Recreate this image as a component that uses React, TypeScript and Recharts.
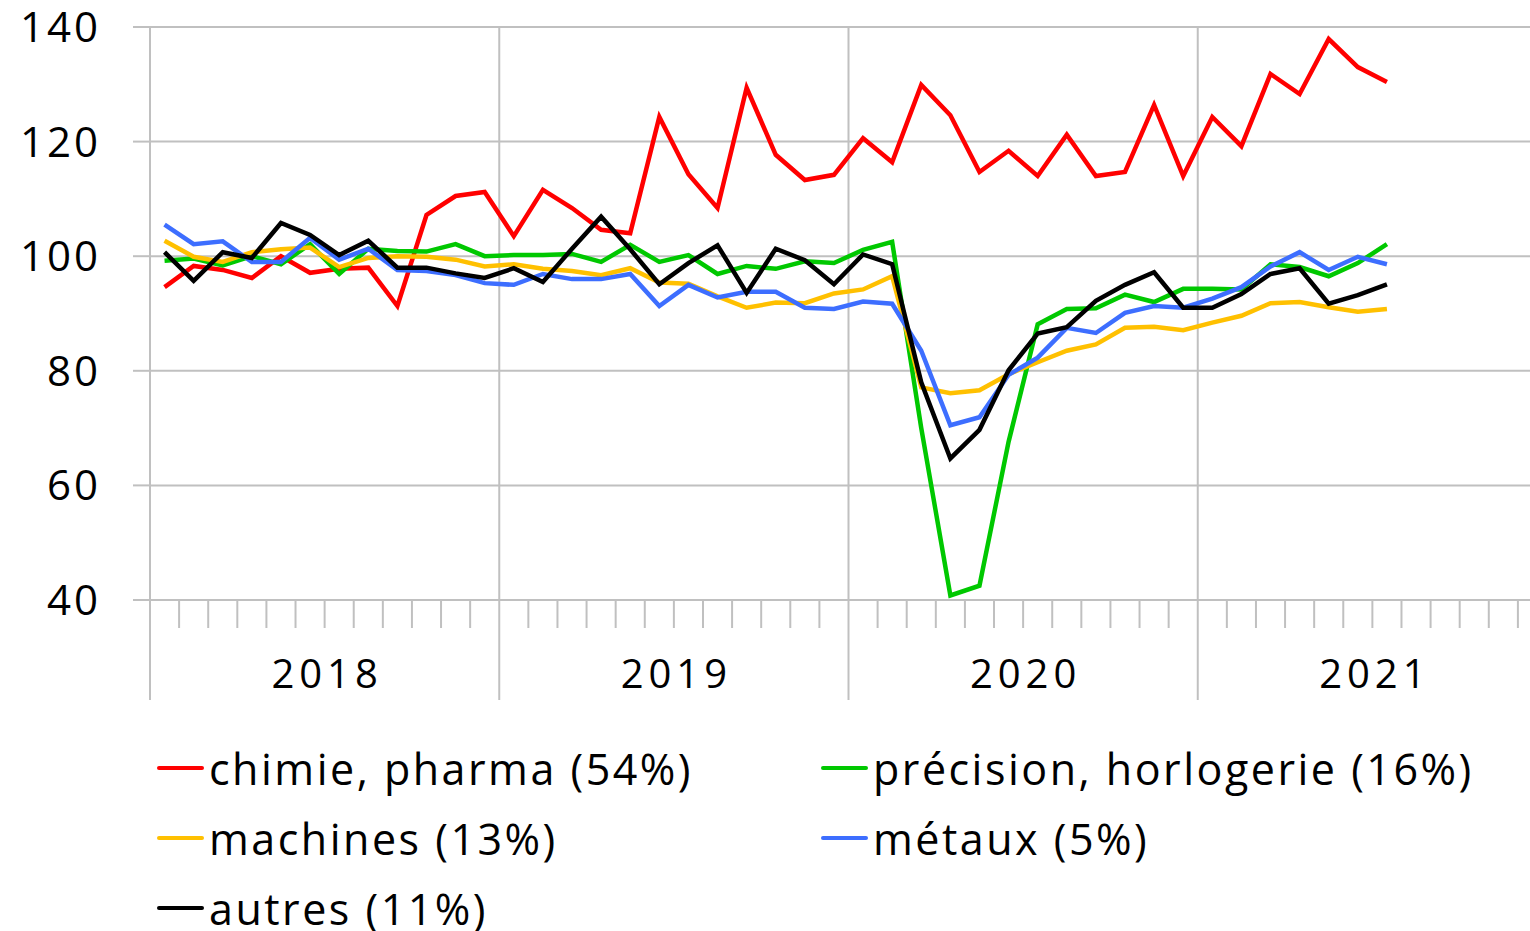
import React from 'react'
import { LineChart, Line, XAxis, YAxis, CartesianGrid } from 'recharts'

// monthly index, Jan 2018 -> Jul 2021
const years = ['2018', '2019', '2020', '2021']
const yTicks = [40, 60, 80, 100, 120, 140]

const chimie = [
  94.6, 98.3, 97.6, 96.2, 100, 97.1, 97.8, 98.0, 91.3, 107.2, 110.5, 111.2,
  103.5, 111.6, 108.4, 104.6, 104.0, 124.3, 114.3, 108.4, 129.4, 117.7, 113.3, 114.2,
  120.6, 116.4, 129.9, 124.6, 114.7, 118.4, 114.0, 121.2, 114.0, 114.7, 126.4, 114.0,
  124.3, 119.2, 131.8, 128.3, 137.9, 133.0, 130.4,
]
const precision = [
  99.2, 99.6, 98.4, 100.0, 98.6, 102.1, 96.9, 101.3, 100.9, 100.8, 102.1, 100.0,
  100.2, 100.2, 100.4, 99.0, 102.0, 99.0, 100.2, 96.9, 98.3, 97.8, 99.1, 98.8,
  101.1, 102.5, 70.0, 40.8, 42.5, 67.6, 88.1, 90.8, 90.9, 93.3, 92.0, 94.3,
  94.3, 94.2, 98.6, 98.1, 96.5, 98.8, 102.1,
]
const machines = [
  102.7, 99.9, 99.0, 100.7, 101.2, 101.5, 98.1, 99.7, 100.0, 99.9, 99.4, 98.2,
  98.6, 97.8, 97.4, 96.7, 97.9, 95.4, 95.2, 93.0, 91.0, 91.9, 91.8, 93.5,
  94.2, 96.5, 77.1, 76.1, 76.6, 79.4, 81.5, 83.5, 84.6, 87.5, 87.7, 87.1,
  88.4, 89.6, 91.8, 92.0, 91.1, 90.3, 90.8,
]
const metaux = [
  105.5, 102.1, 102.6, 99.0, 99.0, 103.2, 99.4, 101.3, 97.6, 97.4, 96.7, 95.3,
  95.0, 96.9, 96.0, 96.0, 96.9, 91.3, 95.0, 92.8, 93.8, 93.8, 91.0, 90.8,
  92.1, 91.7, 83.5, 70.5, 71.9, 79.3, 82.3, 87.5, 86.6, 90.1, 91.3, 91.0,
  92.6, 94.6, 98.2, 100.7, 97.6, 99.9, 98.6,
]
const autres = [
  100.7, 95.7, 100.7, 99.7, 105.8, 103.7, 100.2, 102.7, 98.0, 98.0, 97.0, 96.2,
  97.9, 95.5, 101.3, 106.9, 101.2, 95.1, 98.8, 101.9, 93.6, 101.3, 99.3, 95.1,
  100.3, 98.6, 78.0, 64.7, 69.7, 80.1, 86.5, 87.6, 92.2, 95.0, 97.2, 91.0,
  91.0, 93.4, 96.9, 97.9, 91.7, 93.2, 95.1,
]

const series = [
  { key: 'chimie', name: 'chimie, pharma (54%)', color: '#ff0000', values: chimie },
  { key: 'precision', name: 'précision, horlogerie (16%)', color: '#00c800', values: precision },
  { key: 'machines', name: 'machines (13%)', color: '#ffc000', values: machines },
  { key: 'metaux', name: 'métaux (5%)', color: '#3d6eff', values: metaux },
  { key: 'autres', name: 'autres (11%)', color: '#000000', values: autres },
]

// legend reads row by row, two columns
const legendOrder = ['chimie', 'precision', 'machines', 'metaux', 'autres']

const data = chimie.map((_, i) => {
  const row: Record<string, number> = { t: i + 0.5 }
  series.forEach((s) => {
    row[s.key] = s.values[i]
  })
  return row
})

const monthCount = years.length * 12
const monthTicks = Array.from({ length: monthCount + 1 }, (_, i) => i)
const yearBounds = years.map((_, i) => i * 12).concat(monthCount)

const GRID = '#c0c0c0'
const FONT = "'Open Sans', sans-serif"

const MonthTick = (props: any) => {
  const { x, y, payload } = props
  const v = payload.value as number
  const isYear = v % 12 === 0
  const label = v % 12 === 6 ? years[Math.floor(v / 12)] : null
  return (
    <g>
      <line x1={x} x2={x} y1={y} y2={y + (isYear ? 100 : 28)} stroke={GRID} strokeWidth={2} />
      {label && (
        <text
          x={x + 2.5}
          y={y + 88}
          textAnchor="middle"
          fontFamily={FONT}
          fontSize={40}
          letterSpacing={5}
          fill="#000"
        >
          {label}
        </text>
      )}
    </g>
  )
}

const ValueTick = (props: any) => {
  const { x, y, payload } = props
  return (
    <text
      x={x}
      y={y}
      dy={15}
      textAnchor="end"
      fontFamily={FONT}
      fontSize={42}
      letterSpacing={3}
      fill="#000"
    >
      {payload.value}
    </text>
  )
}

// year separators inside the plot, placed through the x scale
const yearGrid = ({ xAxis, offset }: any) => {
  const sc = xAxis && xAxis.scale
  return yearBounds.map((b) => {
    if (typeof sc === 'function') return sc(b)
    if (sc && typeof sc.map === 'function') return sc.map(b)
    return offset.left + (b / monthCount) * offset.width
  })
}

export default function App() {
  return (
    <div
      style={{
        position: 'fixed',
        left: 0,
        top: 0,
        width: 1530,
        height: 931,
        overflow: 'hidden',
        background: '#fff',
        fontFamily: FONT,
      }}
    >
      <LineChart
        width={1560}
        height={720}
        data={data}
        margin={{ top: 27, right: 13, left: 0, bottom: 0 }}
      >
        <CartesianGrid stroke={GRID} strokeWidth={2} verticalCoordinatesGenerator={yearGrid} />
        <XAxis
          type="number"
          dataKey="t"
          domain={[0, monthCount]}
          ticks={monthTicks}
          interval={0}
          tickLine={false}
          tickSize={0}
          tickMargin={0}
          axisLine={{ stroke: GRID, strokeWidth: 2 }}
          height={120}
          tick={<MonthTick />}
        />
        <YAxis
          domain={[40, 140]}
          ticks={yTicks}
          interval={0}
          width={150}
          axisLine={{ stroke: GRID, strokeWidth: 2 }}
          tickLine={{ stroke: GRID, strokeWidth: 2 }}
          tickSize={17}
          tickMargin={32}
          tick={<ValueTick />}
        />
        {series.map((s) => (
          <Line
            key={s.key}
            type="linear"
            dataKey={s.key}
            stroke={s.color}
            strokeWidth={4.5}
            dot={false}
            activeDot={false}
            isAnimationActive={false}
          />
        ))}
      </LineChart>

      {/* Legend */}
      {legendOrder.map((k, i) => {
        const s = series.find((d) => d.key === k)!
        const col = i % 2
        const row = Math.floor(i / 2)
        return (
          <div
            key={k}
            style={{
              position: 'absolute',
              left: col === 0 ? 157 : 821,
              top: 746 + row * 70,
              height: 44,
              display: 'flex',
              alignItems: 'center',
              whiteSpace: 'nowrap',
            }}
          >
            <div style={{ width: 47, height: 4.5, background: s.color, borderRadius: 2, marginRight: 5 }} />
            <span style={{ fontSize: 43, letterSpacing: 2.5, color: '#000', lineHeight: 1 }}>
              {s.name}
            </span>
          </div>
        )
      })}
    </div>
  )
}
